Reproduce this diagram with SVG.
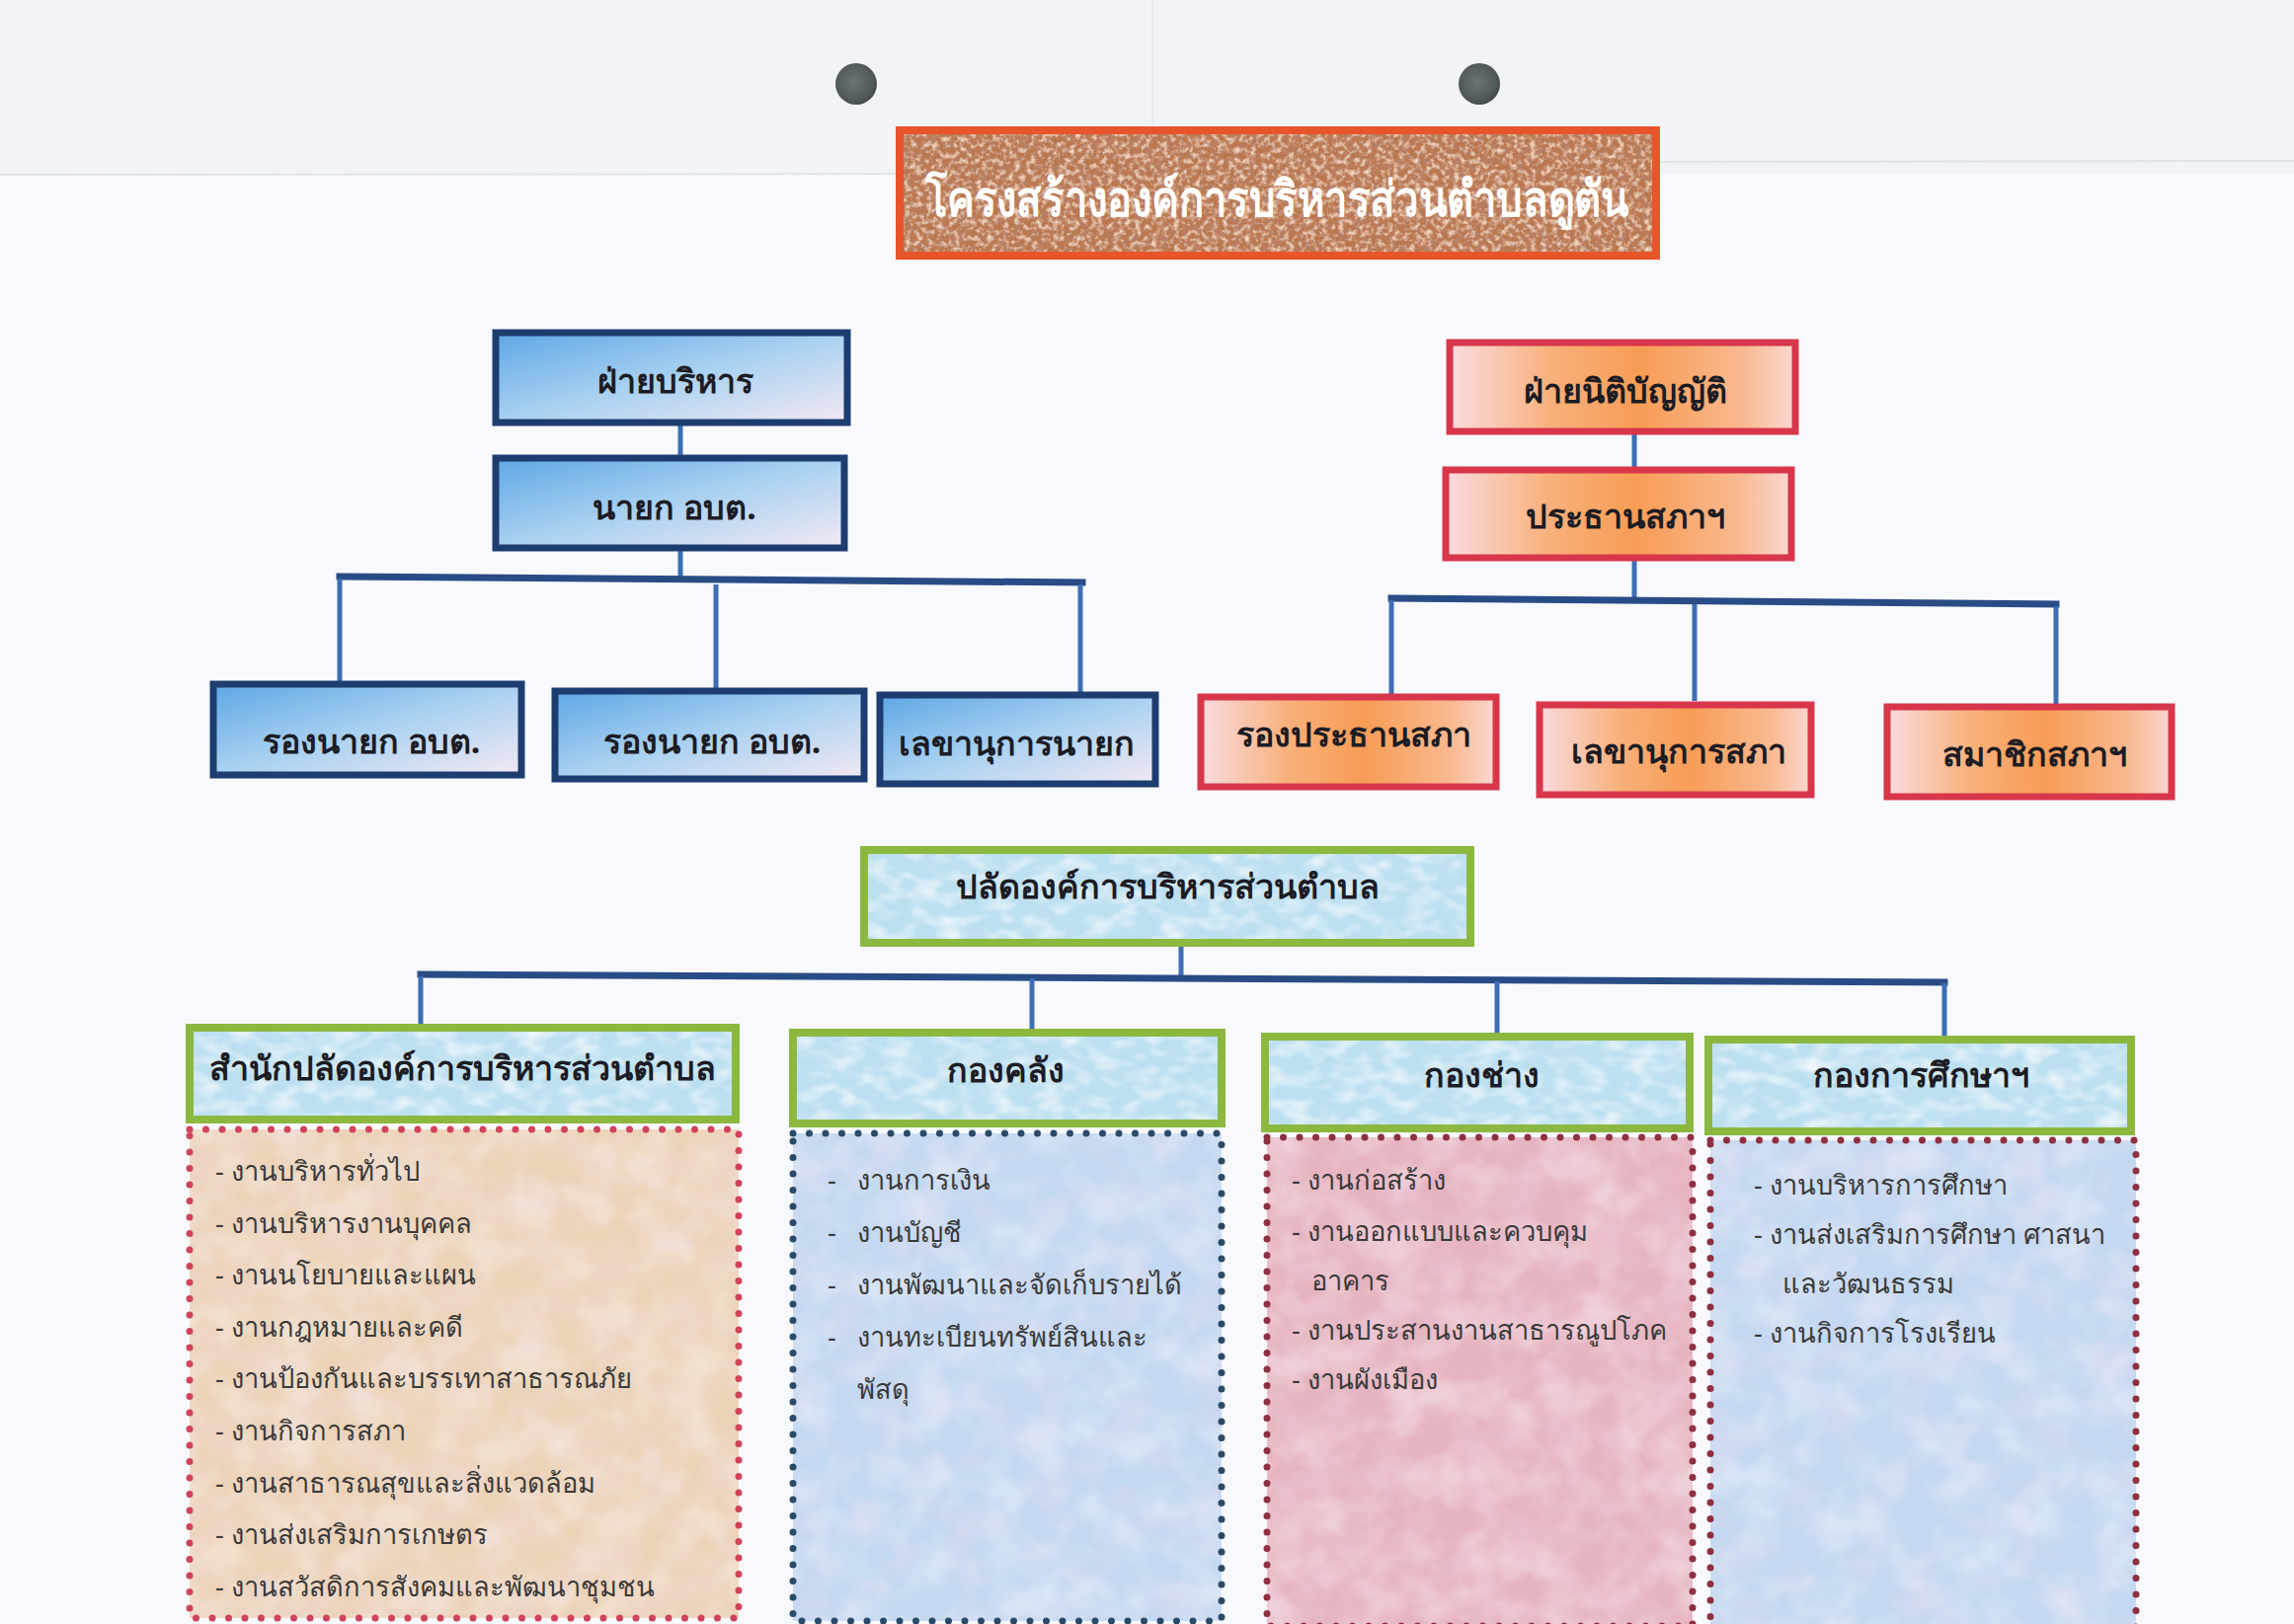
<svg xmlns="http://www.w3.org/2000/svg" width="2323" height="1645" viewBox="0 0 2323 1645">
<defs>
  <style>
    .lbl { font-family: 'Noto Sans', 'DejaVu Sans', sans-serif; font-weight: bold; font-size: 34px; fill: #1c1c24; text-anchor: middle; dominant-baseline: central; }
    .body { font-family: 'Noto Sans', 'DejaVu Sans', sans-serif; font-size: 27.3px; fill: #3a3a3a; }
    .title { font-family: 'Noto Sans', 'DejaVu Sans', sans-serif; font-weight: 600; font-size: 50px; fill: #ffffff; text-anchor: middle; dominant-baseline: central; }
    .blue { stroke: #1d3d70; stroke-width: 7; fill: url(#gBlue); }
    .orng { stroke: #d8364b; stroke-width: 7; fill: url(#gOrange); }
    .grn { stroke: #8cb840; stroke-width: 8; fill: none; }
    .drop { stroke: #3d6db5; stroke-width: 5; fill: none; }
    .bar { stroke: #2a4c86; stroke-width: 7; fill: none; stroke-linecap: square; }
    .dots { fill: none; stroke-width: 7; stroke-linecap: round; stroke-dasharray: 0 16.5; }
  </style>
  <linearGradient id="gBlue" x1="0" y1="0" x2="1" y2="1">
    <stop offset="0" stop-color="#5ea7e4"/>
    <stop offset="0.5" stop-color="#a9d1f1"/>
    <stop offset="1" stop-color="#f3e9f3"/>
  </linearGradient>
  <linearGradient id="gOrange" x1="0" y1="0" x2="1" y2="0">
    <stop offset="0" stop-color="#f9dbe0"/>
    <stop offset="0.3" stop-color="#f8b07a"/>
    <stop offset="0.55" stop-color="#f79c55"/>
    <stop offset="0.85" stop-color="#f9b990"/>
    <stop offset="1" stop-color="#fad8d2"/>
  </linearGradient>
  <radialGradient id="gHole" cx="0.45" cy="0.45" r="0.6">
    <stop offset="0" stop-color="#6c7478"/>
    <stop offset="0.8" stop-color="#4e5659"/>
    <stop offset="1" stop-color="#3a4043"/>
  </radialGradient>
  <filter id="cork" x="0" y="0" width="100%" height="100%">
    <feTurbulence type="fractalNoise" baseFrequency="0.18" numOctaves="3" seed="4" result="n"/>
    <feColorMatrix in="n" type="matrix" values="0 0 0 0 0.46  0 0 0 0 0.22  0 0 0 0 0.15  -3 0 0 0 1.65" result="dk"/>
    <feColorMatrix in="n" type="matrix" values="0 0 0 0 0.93  0 0 0 0 0.70  0 0 0 0 0.54  0 2.6 0 0 -1.2" result="lt"/>
    <feMerge result="m"><feMergeNode in="SourceGraphic"/><feMergeNode in="dk"/><feMergeNode in="lt"/></feMerge>
    <feComposite in="m" in2="SourceGraphic" operator="in"/>
  </filter>
  <filter id="water" x="0" y="0" width="100%" height="100%">
    <feTurbulence type="fractalNoise" baseFrequency="0.04 0.07" numOctaves="2" seed="7" result="n"/>
    <feColorMatrix in="n" type="matrix" values="0 0 0 0 1  0 0 0 0 1  0 0 0 0 1  1.6 0 0 0 -0.7" result="lt"/>
    <feColorMatrix in="n" type="matrix" values="0 0 0 0 0.50  0 0 0 0 0.72  0 0 0 0 0.88  0 -1.6 0 0 0.72" result="dk"/>
    <feMerge result="m"><feMergeNode in="SourceGraphic"/><feMergeNode in="lt"/><feMergeNode in="dk"/></feMerge>
    <feComposite in="m" in2="SourceGraphic" operator="in"/>
  </filter>
  <filter id="mottle" x="0" y="0" width="100%" height="100%">
    <feTurbulence type="fractalNoise" baseFrequency="0.025" numOctaves="3" seed="11" result="n"/>
    <feColorMatrix in="n" type="matrix" values="0 0 0 0 1  0 0 0 0 1  0 0 0 0 1  0.7 0 0 0 -0.28" result="lt"/>
    <feColorMatrix in="n" type="matrix" values="0 0 0 0 0.9  0 0 0 0 0.74  0 0 0 0 0.88  0 0.7 0 0 -0.3" result="pk"/>
    <feMerge result="m"><feMergeNode in="SourceGraphic"/><feMergeNode in="lt"/><feMergeNode in="pk"/></feMerge>
    <feComposite in="m" in2="SourceGraphic" operator="in"/>
  </filter>
</defs>

<!-- page -->
<rect x="0" y="0" width="2323" height="1645" fill="#f8f9fc"/>
<rect x="0" y="0" width="2323" height="176" fill="#f1f3f7"/>
<line x1="0" y1="177" x2="908" y2="176" stroke="#e0e3ea" stroke-width="2"/>
<line x1="1681" y1="164" x2="2323" y2="163" stroke="#e0e3ea" stroke-width="2"/>
<line x1="1167" y1="0" x2="1167" y2="127" stroke="#e8eaf0" stroke-width="2"/>
<circle cx="867" cy="85" r="21" fill="url(#gHole)"/>
<circle cx="1498" cy="85" r="21" fill="url(#gHole)"/>

<!-- connectors -->
<g id="connectors">
  <line class="drop" x1="689" y1="430" x2="689" y2="461"/>
  <line class="drop" x1="689" y1="558" x2="689" y2="585"/>
  <line class="bar" x1="344" y1="584" x2="1096" y2="590"/>
  <line class="drop" x1="344" y1="586" x2="344" y2="692"/>
  <line class="drop" x1="725" y1="592" x2="725" y2="697"/>
  <line class="drop" x1="1094" y1="592" x2="1094" y2="702"/>

  <line class="drop" x1="1655" y1="440" x2="1655" y2="473"/>
  <line class="drop" x1="1655" y1="568" x2="1655" y2="607"/>
  <line class="bar" x1="1409" y1="606" x2="2082" y2="612"/>
  <line class="drop" x1="1409" y1="608" x2="1409" y2="703"/>
  <line class="drop" x1="1716" y1="612" x2="1716" y2="710"/>
  <line class="drop" x1="2082" y1="614" x2="2082" y2="716"/>

  <line class="drop" x1="1196" y1="958" x2="1196" y2="990"/>
  <line class="bar" x1="426" y1="987" x2="1969" y2="995"/>
  <line class="drop" x1="426" y1="989" x2="426" y2="1039"/>
  <line class="drop" x1="1045" y1="991" x2="1045" y2="1042"/>
  <line class="drop" x1="1516" y1="994" x2="1516" y2="1047"/>
  <line class="drop" x1="1969" y1="996" x2="1969" y2="1050"/>
</g>

<!-- title -->
<g id="title">
  <rect x="911" y="132" width="766" height="127" fill="#bb7850" filter="url(#cork)"/>
  <rect x="911" y="132" width="766" height="127" fill="none" stroke="#e8552b" stroke-width="8"/>
  <text class="title" x="1293" y="200" textLength="713" lengthAdjust="spacingAndGlyphs">โครงสร้างองค์การบริหารส่วนตำบลดูตัน</text>
</g>

<!-- executive -->
<g id="n-executive"><rect class="blue" x="502" y="337" width="356" height="91"/><text class="lbl" x="684" y="385">ฝ่ายบริหาร</text></g>
<g id="n-mayor"><rect class="blue" x="502" y="464" width="353" height="91"/><text class="lbl" x="683" y="513">นายก อบต.</text></g>
<g id="n-deputy1"><rect class="blue" x="216" y="693" width="312" height="92"/><text class="lbl" x="376" y="750">รองนายก อบต.</text></g>
<g id="n-deputy2"><rect class="blue" x="562" y="700" width="313" height="89"/><text class="lbl" x="721" y="750">รองนายก อบต.</text></g>
<g id="n-secretary"><rect class="blue" x="891" y="704" width="279" height="90"/><text class="lbl" x="1029" y="752">เลขานุการนายก</text></g>

<!-- legislative -->
<g id="n-legislative"><rect class="orng" x="1468" y="347" width="350" height="90"/><text class="lbl" x="1646" y="395">ฝ่ายนิติบัญญัติ</text></g>
<g id="n-chair"><rect class="orng" x="1464" y="476" width="350" height="89"/><text class="lbl" x="1646" y="522">ประธานสภาฯ</text></g>
<g id="n-vicechair"><rect class="orng" x="1216" y="706" width="299" height="91"/><text class="lbl" x="1371" y="743">รองประธานสภา</text></g>
<g id="n-councilsec"><rect class="orng" x="1559" y="714" width="275" height="91"/><text class="lbl" x="1700" y="760">เลขานุการสภา</text></g>
<g id="n-members"><rect class="orng" x="1911" y="716" width="288" height="91"/><text class="lbl" x="2060" y="763">สมาชิกสภาฯ</text></g>

<!-- permanent secretary -->
<g id="n-palad">
  <rect x="875" y="861" width="614" height="94" fill="#bde0f1" filter="url(#water)"/>
  <rect class="grn" x="875" y="861" width="614" height="94"/>
  <text class="lbl" x="1182" y="897">ปลัดองค์การบริหารส่วนตำบล</text>
</g>

<!-- departments -->
<g id="n-office">
  <rect x="192" y="1041" width="553" height="93" fill="#bde0f1" filter="url(#water)"/>
  <rect class="grn" x="192" y="1041" width="553" height="93"/>
  <text class="lbl" x="468" y="1081">สำนักปลัดองค์การบริหารส่วนตำบล</text>
  <rect x="192" y="1144" width="556" height="495" fill="#ecd3b8" filter="url(#mottle)"/>
  <rect class="dots" x="192" y="1144" width="556" height="495" stroke="#d0435a"/>
  <text class="body" x="218" y="1196">- งานบริหารทั่วไป</text>
  <text class="body" x="218" y="1249">- งานบริหารงานบุคคล</text>
  <text class="body" x="218" y="1301">- งานนโยบายและแผน</text>
  <text class="body" x="218" y="1354">- งานกฎหมายและคดี</text>
  <text class="body" x="218" y="1406">- งานป้องกันและบรรเทาสาธารณภัย</text>
  <text class="body" x="218" y="1459">- งานกิจการสภา</text>
  <text class="body" x="218" y="1512">- งานสาธารณสุขและสิ่งแวดล้อม</text>
  <text class="body" x="218" y="1564">- งานส่งเสริมการเกษตร</text>
  <text class="body" x="218" y="1617">- งานสวัสดิการสังคมและพัฒนาชุมชน</text>
</g>

<g id="n-finance">
  <rect x="803" y="1046" width="434" height="92" fill="#bde0f1" filter="url(#water)"/>
  <rect class="grn" x="803" y="1046" width="434" height="92"/>
  <text class="lbl" x="1018" y="1083">กองคลัง</text>
  <rect x="803" y="1148" width="434" height="494" fill="#c3d8f1" filter="url(#mottle)"/>
  <rect class="dots" x="803" y="1148" width="434" height="494" stroke="#2b4a68"/>
  <text class="body" x="838" y="1205">-</text><text class="body" x="868" y="1205">งานการเงิน</text>
  <text class="body" x="838" y="1258">-</text><text class="body" x="868" y="1258">งานบัญชี</text>
  <text class="body" x="838" y="1311">-</text><text class="body" x="868" y="1311">งานพัฒนาและจัดเก็บรายได้</text>
  <text class="body" x="838" y="1364">-</text><text class="body" x="868" y="1364">งานทะเบียนทรัพย์สินและ</text>
  <text class="body" x="868" y="1417">พัสดุ</text>
</g>

<g id="n-works">
  <rect x="1281" y="1050" width="430" height="93" fill="#bde0f1" filter="url(#water)"/>
  <rect class="grn" x="1281" y="1050" width="430" height="93"/>
  <text class="lbl" x="1500" y="1088">กองช่าง</text>
  <rect x="1283" y="1152" width="431" height="495" fill="#e6b4c0" filter="url(#mottle)"/>
  <rect class="dots" x="1283" y="1152" width="431" height="495" stroke="#8e3040"/>
  <text class="body" x="1308" y="1205">- งานก่อสร้าง</text>
  <text class="body" x="1308" y="1257">- งานออกแบบและควบคุม</text>
  <text class="body" x="1328" y="1307">อาคาร</text>
  <text class="body" x="1308" y="1357">- งานประสานงานสาธารณูปโภค</text>
  <text class="body" x="1308" y="1407">- งานผังเมือง</text>
</g>

<g id="n-education">
  <rect x="1730" y="1053" width="428" height="93" fill="#bde0f1" filter="url(#water)"/>
  <rect class="grn" x="1730" y="1053" width="428" height="93"/>
  <text class="lbl" x="1945" y="1088">กองการศึกษาฯ</text>
  <rect x="1732" y="1155" width="431" height="495" fill="#c3d8f1" filter="url(#mottle)"/>
  <rect class="dots" x="1732" y="1155" width="431" height="495" stroke="#8e3040"/>
  <text class="body" x="1776" y="1210">- งานบริหารการศึกษา</text>
  <text class="body" x="1776" y="1260">- งานส่งเสริมการศึกษา ศาสนา</text>
  <text class="body" x="1805" y="1310">และวัฒนธรรม</text>
  <text class="body" x="1776" y="1360">- งานกิจการโรงเรียน</text>
</g>
</svg>
